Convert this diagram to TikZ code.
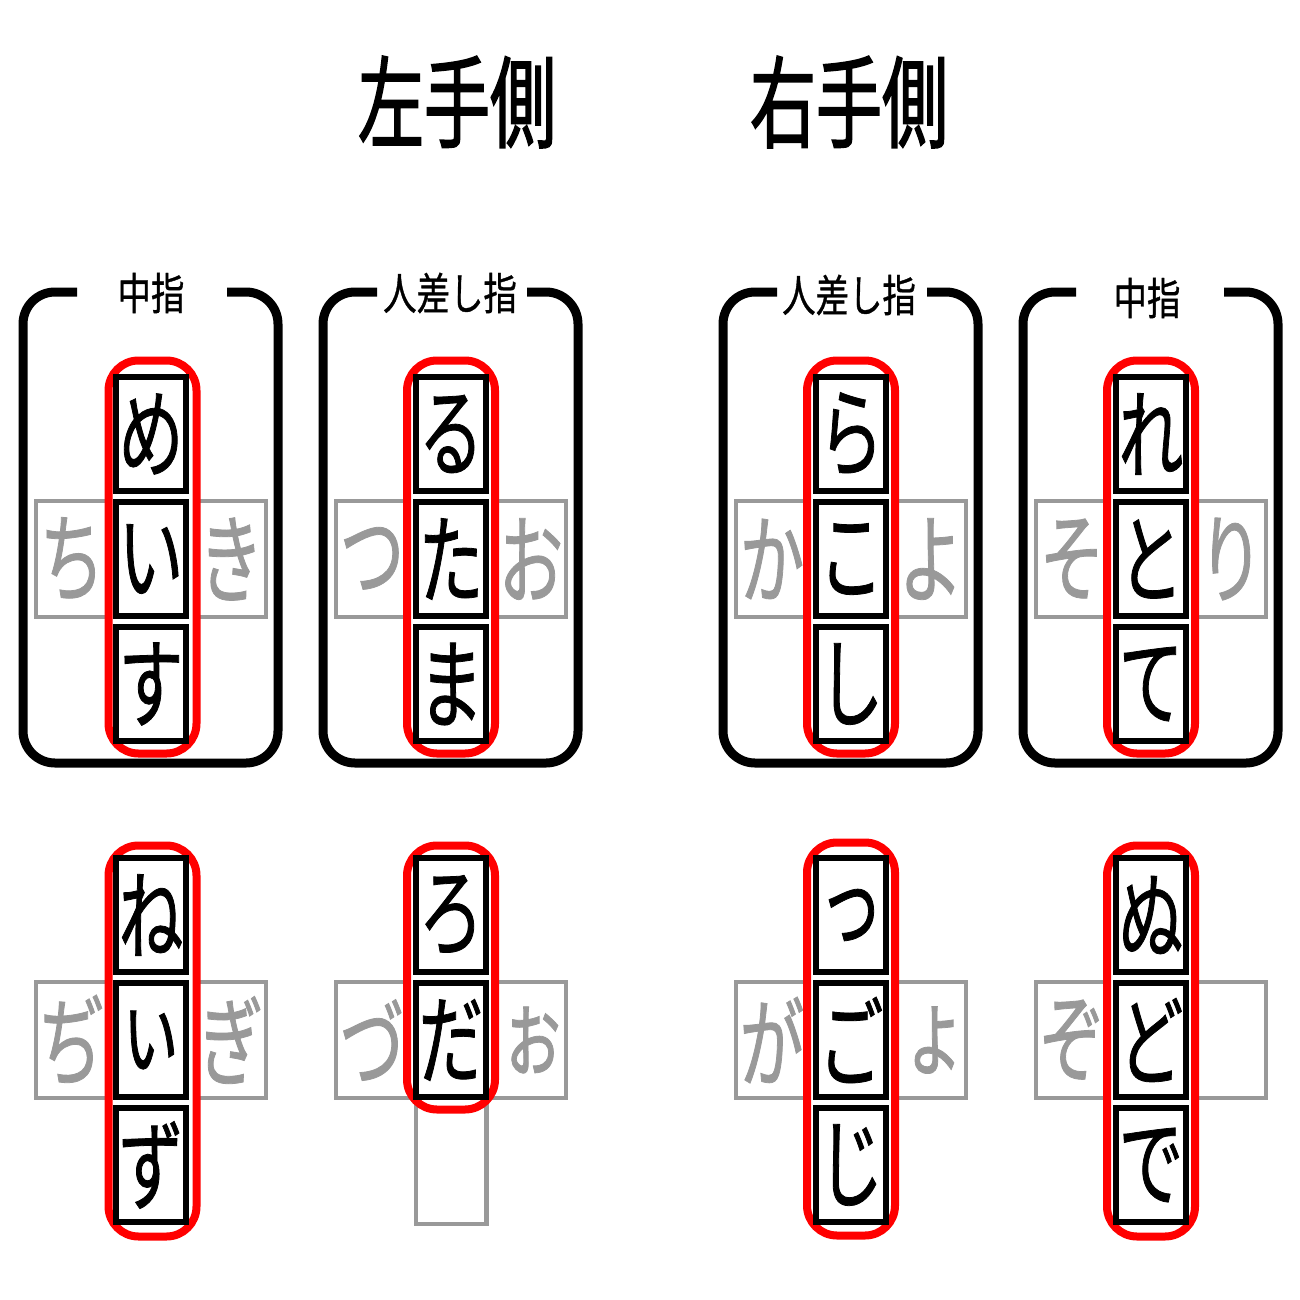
\documentclass[tikz,border=0pt]{standalone}
\usepackage{fontspec}
\newfontfamily\kanaf[FakeStretch=0.66,FakeBold=0.8]{Noto Sans CJK JP}
\newfontfamily\titlef[FakeStretch=0.66,FakeBold=1.5]{Noto Sans CJK JP}
\newfontfamily\lblf[FakeStretch=0.76,FakeBold=0.8]{Noto Sans CJK JP}
\definecolor{keygray}{HTML}{999999}
\begin{document}
\begin{tikzpicture}[x=1pt,y=-1pt,
  keybox/.style={draw=black, line width=6pt, fill=white, minimum width=70pt, minimum height=114pt, inner sep=0pt, font=\kanaf\fontsize{98}{98}\selectfont},
  grayrow/.style={draw=keygray, line width=4.5pt, minimum width=230pt, minimum height=116pt, inner sep=0pt},
  grayempty/.style={draw=keygray, line width=4.5pt, minimum width=70.5pt, minimum height=122pt, inner sep=0pt},
  graytxt/.style={text=keygray, inner sep=0pt, font=\kanaf\fontsize{98}{98}\selectfont},
  redframe/.style={draw=red, line width=8pt, fill=white, rounded corners=30pt, inner sep=0pt, minimum width=88pt},
  bracket/.style={draw=black, line width=9pt, rounded corners=32pt},
  fingerlbl/.style={inner sep=0pt, font=\lblf\fontsize{44}{44}\selectfont},
  titlelbl/.style={inner sep=0pt, font=\titlef\fontsize{100}{100}\selectfont}
]
\useasboundingbox (0,0) rectangle (1300,1300);
\fill[white] (0,0) rectangle (1300,1300);

% titles
\node[titlelbl] (tL) at (457,102) {左手側};
\node[titlelbl] (tR) at (849,102) {右手側};

% ---------- top row panels ----------
% panel 1: left middle finger
\begin{scope}[xshift=0pt]
  \draw[bracket] (77,292) -- (23,292) -- (23,763) -- (278,763) -- (278,292) -- (227,292);
  \node[fingerlbl] (l1) at (151,293) {中指};
  \node[grayrow] (g1) at (151,559) {};
  \node[graytxt] (g1l) at (72,559) {ち};
  \node[graytxt] (g1r) at (231,559) {き};
  \node[redframe, minimum height=393pt] (r1) at (152.5,557) {};
  \node[keybox] (k1a) at (151,434) {め};
  \node[keybox] (k1b) at (151,559) {い};
  \node[keybox] (k1c) at (151,684) {す};
\end{scope}
% panel 2: left index finger
\begin{scope}[xshift=300pt]
  \draw[bracket] (77,292) -- (23,292) -- (23,763) -- (278,763) -- (278,292) -- (227,292);
  \node[fingerlbl] (l2) at (150,293) {人差し指};
  \node[grayrow] (g2) at (151,559) {};
  \node[graytxt] (g2l) at (72,559) {つ};
  \node[graytxt] (g2r) at (231,559) {お};
  \node[redframe, minimum height=393pt] (r2) at (151,557) {};
  \node[keybox] (k2a) at (151,434) {る};
  \node[keybox] (k2b) at (151,559) {た};
  \node[keybox] (k2c) at (151,684) {ま};
\end{scope}
% panel 3: right index finger
\begin{scope}[xshift=700pt]
  \draw[bracket] (77,292) -- (23,292) -- (23,763) -- (278,763) -- (278,292) -- (227,292);
  \node[fingerlbl] (l3) at (149,295) {人差し指};
  \node[grayrow] (g3) at (151,559) {};
  \node[graytxt] (g3l) at (72,559) {か};
  \node[graytxt] (g3r) at (231,559) {よ};
  \node[redframe, minimum height=393pt] (r3) at (151,557) {};
  \node[keybox] (k3a) at (151,434) {ら};
  \node[keybox] (k3b) at (151,559) {こ};
  \node[keybox] (k3c) at (151,684) {し};
\end{scope}
% panel 4: right middle finger
\begin{scope}[xshift=1000pt]
  \draw[bracket] (76,292) -- (23,292) -- (23,763) -- (278,763) -- (278,292) -- (224,292);
  \node[fingerlbl] (l4) at (147,298) {中指};
  \node[grayrow] (g4) at (151,559) {};
  \node[graytxt] (g4l) at (72,559) {そ};
  \node[graytxt] (g4r) at (231,559) {り};
  \node[redframe, minimum height=393pt] (r4) at (151,557) {};
  \node[keybox] (k4a) at (151,434) {れ};
  \node[keybox] (k4b) at (151,559) {と};
  \node[keybox] (k4c) at (151,684) {て};
\end{scope}

% ---------- bottom row ----------
\begin{scope}[xshift=0pt]
  \node[grayrow] (h1) at (151,1040) {};
  \node[graytxt] (h1l) at (72,1040) {ぢ};
  \node[graytxt] (h1r) at (231,1040) {ぎ};
  \node[redframe, minimum height=391pt] (s1) at (152.5,1041) {};
  \node[keybox] (m1a) at (151,915) {ね};
  \node[keybox] (m1b) at (151,1040) {ぃ};
  \node[keybox] (m1c) at (151,1165) {ず};
\end{scope}
\begin{scope}[xshift=300pt]
  \node[grayrow] (h2) at (151,1040) {};
  \node[graytxt] (h2l) at (72,1040) {づ};
  \node[graytxt] (h2r) at (233,1040) {ぉ};
  \node[grayempty] (h2d) at (151,1163) {};
  \node[redframe, minimum height=264pt] (s2) at (151,977.5) {};
  \node[keybox] (m2a) at (151,915) {ろ};
  \node[keybox] (m2b) at (151,1040) {だ};
\end{scope}
\begin{scope}[xshift=700pt]
  \node[grayrow] (h3) at (151,1040) {};
  \node[graytxt] (h3l) at (72,1040) {が};
  \node[graytxt] (h3r) at (235,1040) {ょ};
  \node[redframe, minimum height=393pt] (s3) at (151,1039) {};
  \node[keybox] (m3a) at (151,915) {っ};
  \node[keybox] (m3b) at (151,1040) {ご};
  \node[keybox] (m3c) at (151,1165) {じ};
\end{scope}
\begin{scope}[xshift=1000pt]
  \node[grayrow] (h4) at (151,1040) {};
  \node[graytxt] (h4l) at (72,1040) {ぞ};
  \node[redframe, minimum height=391pt] (s4) at (151,1041) {};
  \node[keybox] (m4a) at (151,915) {ぬ};
  \node[keybox] (m4b) at (151,1040) {ど};
  \node[keybox] (m4c) at (151,1165) {で};
\end{scope}
\end{tikzpicture}
\end{document}
